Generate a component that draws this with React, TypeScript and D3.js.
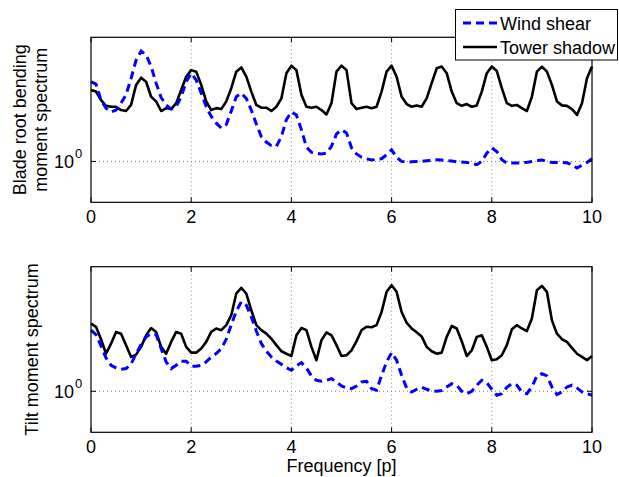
import React from "react";
import * as d3 from "d3";

// Frequency axis (multiples of rotor frequency p), step 0.1
const STEP = 0.1;

// Blade root bending moment spectrum
const bladeWindShear = [2.51, 2.44, 2.03, 1.85, 1.77, 1.81, 1.96, 2.16, 2.61, 3.22, 3.58, 3.42, 2.99, 2.47, 2.09, 1.92, 1.83, 1.88, 2.11, 2.51, 2.77, 2.56, 2.20, 1.88, 1.68, 1.555, 1.47, 1.53, 1.79, 2.11, 2.20, 2.07, 1.81, 1.54,
  1.33, 1.25, 1.20, 1.19, 1.33, 1.62, 1.77, 1.71, 1.44, 1.18, 1.11, 1.10, 1.09, 1.10, 1.19, 1.375, 1.44, 1.39, 1.17, 1.09, 1.05, 1.03, 1.016, 1.024, 1.032, 1.08, 1.144, 1.047, 1.00, 0.993, 0.996, 1.00,
  1.00, 1.008, 1.012, 1.02, 1.016, 1.008, 1.004, 0.996, 0.993, 0.989, 0.978, 0.963, 1.00, 1.10, 1.17, 1.12, 1.02, 0.981, 0.981, 0.981, 0.985, 0.989, 1.00, 1.012, 1.016, 1.00, 0.989, 0.989, 0.989, 0.985, 0.963, 0.926, 0.956, 0.989, 1.032];

const bladeTowerShadow = [2.28, 2.24, 2.03, 1.90, 1.88, 1.88, 1.81, 1.79, 1.92, 2.42, 2.63, 2.51, 2.11, 2.00, 1.79, 1.85, 1.83, 1.96, 2.28, 2.66, 2.87, 2.82, 2.42, 2.00, 1.81, 1.85, 1.83, 2.00, 2.33, 2.82, 2.96, 2.66, 2.24, 1.92, 1.86,
  1.86, 1.79, 1.88, 2.07, 2.77, 3.02, 2.87, 2.16, 1.88, 1.86, 1.88, 1.81, 1.72, 1.96, 2.82, 3.02, 2.87, 1.96, 1.83, 1.86, 1.88, 1.85, 1.88, 2.24, 2.82, 3.02, 2.66, 2.11, 1.94, 1.88, 1.91, 1.88, 2.07,
  2.47, 2.93, 2.99, 2.77, 2.24, 1.96, 1.90, 1.94, 1.88, 1.91, 2.24, 2.77, 2.99, 2.84, 2.33, 1.96, 1.90, 1.92, 1.85, 1.79, 2.11, 2.82, 2.99, 2.82, 2.42, 2.00, 1.91, 1.90, 1.83, 1.71, 1.96, 2.61, 2.99];

// Tilt moment spectrum
const tiltWindShear = [2.02, 1.92, 1.686, 1.468, 1.349, 1.308, 1.288, 1.298, 1.369, 1.543, 1.71, 1.87, 1.94, 1.92, 1.635, 1.402, 1.298, 1.349, 1.413, 1.413, 1.334, 1.334, 1.349, 1.402, 1.485, 1.543, 1.635, 1.82, 2.15, 2.51, 2.80, 2.69, 2.35, 2.00,
  1.73, 1.585, 1.485, 1.418, 1.365, 1.313, 1.274, 1.339, 1.391, 1.308, 1.193, 1.135, 1.122, 1.135, 1.157, 1.113, 1.063, 1.039, 1.031, 1.063, 1.113, 1.122, 1.031, 1.012, 1.202, 1.402, 1.56, 1.43, 1.202, 1.039, 0.992, 1.023,
  1.047, 1.023, 1.004, 1.00, 1.008, 1.051, 1.092, 1.072, 1.00, 0.973, 1.00, 1.072, 1.135, 1.105, 1.023, 0.955, 0.973, 1.047, 1.092, 1.072, 0.992, 0.973, 1.051, 1.193, 1.226, 1.193, 1.051, 0.962, 0.992, 1.051, 1.072, 1.039, 0.992, 0.973, 0.955];

const tiltTowerShadow = [2.18, 2.10, 1.82, 1.54, 1.73, 1.98, 1.94, 1.70, 1.485, 1.525, 1.667, 1.905, 2.07, 1.98, 1.667, 1.54, 1.765, 1.98, 1.94, 1.667, 1.56, 1.56, 1.635, 1.765, 1.98, 2.06, 2.02, 2.14, 2.40, 3.08, 3.29, 3.08, 2.54, 2.14,
  2.02, 1.94, 1.83, 1.70, 1.585, 1.54, 1.50, 1.905, 2.07, 2.02, 1.667, 1.43, 1.80, 1.97, 1.905, 1.70, 1.50, 1.514, 1.60, 1.78, 2.02, 2.10, 2.09, 2.14, 2.49, 3.14, 3.39, 3.14, 2.49, 2.20, 2.06, 1.97,
  1.88, 1.667, 1.585, 1.54, 1.56, 1.87, 2.12, 2.06, 1.78, 1.50, 1.60, 1.87, 1.905, 1.667, 1.43, 1.445, 1.514, 1.70, 2.04, 2.14, 2.06, 2.00, 2.31, 3.20, 3.36, 3.14, 2.26, 1.94, 1.82, 1.765, 1.648, 1.54, 1.485, 1.43, 1.50];

const xTicks = [0, 2, 4, 6, 8, 10];
const yTicks = [1];
const seriesNames = ["Wind shear", "Tower shadow"];
const yLabels = [["Blade root bending", "moment spectrum"], ["Tilt moment spectrum"]];
const xLabel = "Frequency [p]";

const FONT = "'Liberation Sans', Arial, Helvetica, sans-serif";
const W = 619;
const H = 477;
const left = 91;
const right = 592;
const panels = [
  { top: 37.3, bottom: 202.3, ws: bladeWindShear, ts: bladeTowerShadow, labels: yLabels[0] },
  { top: 266.7, bottom: 432.3, ws: tiltWindShear, ts: tiltTowerShadow, labels: yLabels[1] },
];
const yDomain: [number, number] = [Math.pow(10, -0.205), Math.pow(10, 0.6225)];
const DASH = "8,5";

export default function App() {
  const x = d3.scaleLinear().domain([0, 10]).range([left, right]);
  return (
    <svg width={W} height={H} style={{ position: "absolute", left: 0, top: 0, background: "#fff" }} fontFamily={FONT}>
      <rect x={0} y={0} width={W} height={H} fill="#fff" />
      {panels.map((p, pi) => {
        const y = d3.scaleLog().domain(yDomain).range([p.bottom, p.top]);
        const line = d3
          .line<number>()
          .x((_, i) => x(i * STEP))
          .y((v) => y(v));
        const midY = (p.top + p.bottom) / 2;
        return (
          <g key={pi}>
            <rect x={left} y={p.top} width={right - left} height={p.bottom - p.top} fill="#fff" />
            {/* grid */}
            {xTicks.filter((t) => t > 0 && t < 10).map((t) => (
              <line key={"gx" + t} x1={x(t)} x2={x(t)} y1={p.top} y2={p.bottom} stroke="#666" strokeWidth={0.8} strokeDasharray="1,3" />
            ))}
            {yTicks.map((t) => (
              <line key={"gy" + t} x1={left} x2={right} y1={y(t)} y2={y(t)} stroke="#666" strokeWidth={0.8} strokeDasharray="1,3" />
            ))}
            {/* series */}
            <path d={line(p.ts) || ""} fill="none" stroke="#000" strokeWidth={2.6} strokeLinejoin="round" />
            <path d={line(p.ws) || ""} fill="none" stroke="#0000ff" strokeWidth={3} strokeDasharray={DASH} />
            {/* box */}
            <rect x={left} y={p.top} width={right - left} height={p.bottom - p.top} fill="none" stroke="#000" strokeWidth={1.2} />
            {/* ticks */}
            {xTicks.map((t) => (
              <g key={"tx" + t}>
                <line x1={x(t)} x2={x(t)} y1={p.bottom} y2={p.bottom - 5} stroke="#000" strokeWidth={1} />
                <line x1={x(t)} x2={x(t)} y1={p.top} y2={p.top + 5} stroke="#000" strokeWidth={1} />
                <text x={x(t)} y={p.bottom + 21} fontSize={18} textAnchor="middle" fill="#000">{t}</text>
              </g>
            ))}
            {yTicks.map((t) => (
              <g key={"ty" + t}>
                <line x1={left} x2={left + 5} y1={y(t)} y2={y(t)} stroke="#000" strokeWidth={1} />
                <line x1={right} x2={right - 5} y1={y(t)} y2={y(t)} stroke="#000" strokeWidth={1} />
                <text x={74} y={y(t) + 7} fontSize={18} textAnchor="end" fill="#000">10</text>
                <text x={75} y={y(t) - 3} fontSize={13} textAnchor="start" fill="#000">0</text>
              </g>
            ))}
            {/* y label */}
            {p.labels.length === 2 ? (
              <text transform={`translate(${26},${midY}) rotate(-90)`} fontSize={18} textAnchor="middle" fill="#000">
                <tspan x={0} dy={0}>{p.labels[0]}</tspan>
                <tspan x={0} dy={21}>{p.labels[1]}</tspan>
              </text>
            ) : (
              <text transform={`translate(${38},${midY}) rotate(-90)`} fontSize={18} textAnchor="middle" fill="#000">
                {p.labels[0]}
              </text>
            )}
          </g>
        );
      })}
      <text x={(left + right) / 2} y={472} fontSize={18} textAnchor="middle" fill="#000">{xLabel}</text>
      {/* legend */}
      <g>
        <rect x={455.5} y={9.5} width={162} height={50.5} fill="#fff" stroke="#000" strokeWidth={1} />
        <line x1={463} x2={497} y1={23} y2={23} stroke="#0000ff" strokeWidth={3} strokeDasharray={DASH} />
        <text x={500} y={29.5} fontSize={18} fill="#000">{seriesNames[0]}</text>
        <line x1={463} x2={497} y1={47} y2={47} stroke="#000" strokeWidth={2.6} />
        <text x={500} y={53.5} fontSize={18} fill="#000">{seriesNames[1]}</text>
      </g>
    </svg>
  );
}
